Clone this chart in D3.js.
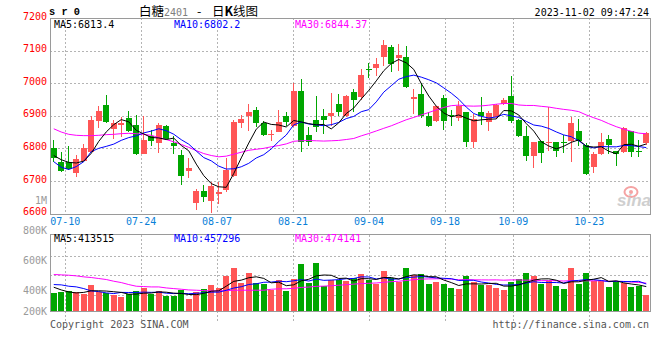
<!DOCTYPE html>
<html><head><meta charset="utf-8">
<script src="https://cdn.jsdelivr.net/npm/d3@7"></script>
<style>body{margin:0;background:#fff}svg{display:block}</style>
</head><body>
<svg id="c" width="660" height="360"></svg>
<script>
// ---------- data ----------
const dates = ["07-06","07-07","07-10","07-11","07-12","07-13","07-14","07-17","07-18","07-19","07-20","07-21","07-24","07-25","07-26","07-27","07-28","07-31",
"08-01","08-02","08-03","08-04","08-07","08-08","08-09","08-10","08-11","08-14","08-15","08-16","08-17","08-18","08-21","08-22","08-23","08-24","08-25","08-28","08-29","08-30","08-31",
"09-01","09-04","09-05","09-06","09-07","09-08","09-11","09-12","09-13","09-14","09-15","09-18","09-19","09-20","09-21","09-22","09-25","09-26","09-27","09-28",
"10-09","10-10","10-11","10-12","10-13","10-16","10-17","10-18","10-19","10-20","10-23","10-24","10-25","10-26","10-27","10-30","10-31","11-01","11-02"];
const open  = [6801,6759,6759,6724,6762,6790,6885,6934,6859,6871,6894,6872,6784,6839,6815,6869,6815,6781,6730,6632,6668,6637,6659,6671,6714,6877,6898,6918,6878,6842,6851,6900,6869,6977,6842,6888,6898,6898,6936,6898,6973,6958,7042,7048,7079,7112,7076,7081,6950,6966,6900,6885,6953,6903,6892,6912,6818,6910,6880,6895,6937,6961,6888,6839,6776,6822,6816,6818,6820,6823,6854,6810,6742,6782,6829,6793,6788,6852,6793,6816];
const high  = [6827,6790,6808,6780,6814,6900,6929,6964,6888,6897,6914,6903,6900,6857,6878,6872,6839,6796,6769,6676,6689,6696,6698,6769,6888,6903,6936,6926,6885,6857,6918,6912,6999,7014,6867,6961,6920,6971,6966,6963,6982,7043,7061,7077,7133,7116,7119,7114,6982,6999,6910,6931,6963,6918,6946,6912,6905,6958,6915,6936,6953,7022,6890,6869,6820,6822,6926,6820,6841,6897,6890,6816,6788,6847,6842,6793,6864,6854,6827,6849];
const low   = [6757,6727,6735,6711,6760,6788,6861,6878,6829,6834,6851,6780,6782,6808,6785,6826,6783,6689,6709,6612,6635,6602,6628,6667,6711,6861,6854,6864,6839,6823,6849,6869,6864,6788,6806,6851,6843,6869,6900,6895,6912,6949,7017,7022,7053,7033,7038,6984,6905,6892,6864,6880,6857,6869,6885,6803,6800,6871,6852,6890,6932,6878,6834,6762,6739,6755,6793,6772,6786,6759,6808,6718,6724,6781,6783,6747,6786,6772,6772,6810];
const close = [6769,6731,6737,6767,6800,6888,6915,6882,6878,6878,6854,6784,6827,6823,6872,6829,6806,6714,6741,6668,6652,6684,6665,6733,6880,6891,6912,6878,6842,6844,6882,6882,6977,6820,6818,6864,6888,6908,6913,6961,6949,7026,7040,7059,7117,7060,7087,6989,6958,6900,6869,6931,6885,6898,6929,6820,6890,6900,6908,6933,6949,6885,6837,6776,6818,6785,6820,6793,6816,6878,6823,6721,6782,6820,6810,6783,6862,6788,6788,6846];
const volume = [301000,324000,335000,324000,296000,438000,324000,313000,267000,239000,284000,335000,387000,284000,335000,256000,256000,358000,199000,318000,370000,438000,392000,591000,728000,472000,643000,472000,455000,353000,523000,347000,546000,796000,483000,813000,421000,523000,523000,512000,563000,625000,523000,455000,677000,563000,495000,733000,608000,625000,455000,489000,455000,392000,375000,591000,495000,438000,438000,392000,353000,495000,540000,643000,591000,455000,506000,421000,370000,728000,455000,643000,506000,506000,404000,506000,472000,404000,426000,267000];
const ma5Head  = [6778,6765,6757,6755];
const ma10Head = [6759,6742,6735,6744,6759,6790,6800,6806,6813];
const ma30Head = [6860,6850,6843,6840,6839,6839,6840,6842,6843,6845,6846,6845,6843,6840,6833,6827,6820,6812,6803,6793,6784,6778,6774,6776,6782,6788,6794,6797,6800];
const vma5Head  = [404000,358000,324000,307000];
const vma10Head = [449000,444000,421000,410000,381000,341000,330000,307000,296000];
const vma30Head = [620000,614000,608000,597000,580000,569000,552000,535000,506000,483000,449000,421000,415000,409000,409000,392000,381000,370000,358000,353000,347000,341000,341000,347000,353000,353000,353000,353000,353000];
const priceTicks = [7200,7100,7000,6900,6800,6700,6600];
const dateTicks = ["07-10","07-24","08-07","08-21","09-04","09-18","10-09","10-23"];
const volTickValues = [1000000,800000,600000,400000,200000];
const volTickLabels = ["1M","800K","600K","400K","200K"];
const volGridValues = [280000,610000,940000];
const priceLegend = {ma5:"6813.4", ma10:"6802.2", ma30:"6844.37"};
const volLegend = {ma5:"413515", ma10:"457296", ma30:"474141"};

// ---------- helpers ----------
function movingAvg(arr, n, head){ return arr.map((v,i)=> i < n-1 ? head[i] : d3.mean(arr.slice(i-n+1,i+1))); }
const RED="#ff5656", GREEN="#00a600", MONO="'DejaVu Sans Mono', monospace";
const svg = d3.select("#c");
const L=50, R=650, PT=18, PB=213.5, VT=234.5, VB=311;

const x = d3.scaleBand().domain(dates).range([L,R]).paddingInner(0.2).paddingOuter(0.1);
const xg = d3.scalePoint().domain(dates).range([L,R]);
const cx = d => x(d)+x.bandwidth()/2;
const y = d3.scaleLinear().domain([6600,7200]).range([PB,PT]);
const yv = d3.scaleLinear().domain([0,1300000]).range([VB,VT]);
const volLabelY = d3.scaleLinear().domain([0,1000000]).range([350.7,200.3]);

const g = svg.append("g");
// grid - price
const grid = g.append("g").attr("stroke","#b4b4b4").attr("stroke-dasharray","2,2").attr("shape-rendering","crispEdges");
priceTicks.filter(t=>t>6600&&t<7200).forEach(t=>{
  grid.append("line").attr("x1",L).attr("x2",R).attr("y1",Math.round(y(t))+0.5).attr("y2",Math.round(y(t))+0.5);
});
dateTicks.forEach(d=>{
  const xx=Math.round(xg(d))+0.5;
  grid.append("line").attr("x1",xx).attr("x2",xx).attr("y1",PT).attr("y2",PB);
  grid.append("line").attr("x1",xx).attr("x2",xx).attr("y1",VT).attr("y2",VB+10);
});
volGridValues.forEach(v=>{
  grid.append("line").attr("x1",L).attr("x2",R).attr("y1",Math.round(yv(v))+0.5).attr("y2",Math.round(yv(v))+0.5);
});

// watermark
const wm = g.append("g");
wm.append("ellipse").attr("cx",631).attr("cy",192).attr("rx",6.5).attr("ry",5).attr("fill","none").attr("stroke","#f5a3a3").attr("stroke-width",2);
wm.append("circle").attr("cx",631).attr("cy",192).attr("r",2).attr("fill","#f5a3a3");
wm.append("text").attr("x",651).attr("y",206).attr("text-anchor","end").attr("font-family","'Liberation Sans',Arial,sans-serif")
  .attr("font-style","italic").attr("font-weight","bold").attr("font-size",17).attr("fill","#cfcfcf").text("sina");

// candles
const cg = g.append("g").attr("shape-rendering","crispEdges");
dates.forEach((d,i)=>{
  const up = close[i] >= open[i];
  const col = up ? RED : GREEN;
  const xc = Math.floor(cx(d))+0.5;
  cg.append("line").attr("x1",xc).attr("x2",xc).attr("y1",y(high[i])).attr("y2",y(low[i])).attr("stroke",col);
  const top = y(Math.max(open[i],close[i])), bot = y(Math.min(open[i],close[i]));
  cg.append("rect").attr("x",Math.round(x(d))).attr("width",Math.round(x.bandwidth()))
    .attr("y",top).attr("height",Math.max(1,bot-top)).attr("fill",col);
});
// volume bars
dates.forEach((d,i)=>{
  const up = close[i] >= open[i];
  cg.append("rect").attr("x",Math.round(x(d))).attr("width",Math.round(x.bandwidth()))
    .attr("y",yv(volume[i])).attr("height",VB-yv(volume[i])).attr("fill",up?RED:GREEN);
});

// MA lines
const pLine = d3.line().x((v,i)=>cx(dates[i])).y(v=>y(v));
const vLine = d3.line().x((v,i)=>cx(dates[i])).y(v=>yv(v));
[[movingAvg(close,30,ma30Head),"#ff00ff"],[movingAvg(close,10,ma10Head),"#0000ff"],[movingAvg(close,5,ma5Head),"#000"]].forEach(([s,c])=>{
  g.append("path").attr("d",pLine(s)).attr("fill","none").attr("stroke",c).attr("stroke-width",1);
});
[[movingAvg(volume,30,vma30Head),"#ff00ff"],[movingAvg(volume,10,vma10Head),"#0000ff"],[movingAvg(volume,5,vma5Head),"#000"]].forEach(([s,c])=>{
  g.append("path").attr("d",vLine(s)).attr("fill","none").attr("stroke",c).attr("stroke-width",1);
});

// borders
g.append("rect").attr("x",L+0.5).attr("y",PT+0.5).attr("width",R-L).attr("height",PB-PT).attr("fill","none").attr("stroke","#9a9a9a").attr("shape-rendering","crispEdges");
g.append("rect").attr("x",L+0.5).attr("y",VT).attr("width",R-L).attr("height",VB-VT).attr("fill","none").attr("stroke","#9a9a9a").attr("shape-rendering","crispEdges");

// price axis labels
priceTicks.forEach(t=>{
  svg.append("text").attr("x",47).attr("y",y(t)-2).attr("dy","0.36em").attr("text-anchor","end")
    .attr("font-family",MONO).attr("font-size",10).attr("fill","#ff0000").text(t);
});
// date labels
dateTicks.forEach(d=>{
  svg.append("text").attr("x",xg(d)).attr("y",224.5).attr("text-anchor","middle")
    .attr("font-family",MONO).attr("font-size",10).attr("fill","#0a7fd8").text(d);
});
// volume labels
volTickValues.forEach((v,i)=>{
  svg.append("text").attr("x",47).attr("y",Math.min(volLabelY(v),VB)).attr("dy","0.36em").attr("text-anchor","end")
    .attr("font-family",MONO).attr("font-size",10).attr("fill","#9a9a9a").text(volTickLabels[i]);
});

// legends
function legend(yy, vals){
  svg.append("text").attr("x",54).attr("y",yy).attr("font-family",MONO).attr("font-size",10).attr("fill","#000").text("MA5:"+vals.ma5);
  svg.append("text").attr("x",174).attr("y",yy).attr("font-family",MONO).attr("font-size",10).attr("fill","#0000ff").text("MA10:"+vals.ma10);
  svg.append("text").attr("x",295).attr("y",yy).attr("font-family",MONO).attr("font-size",10).attr("fill","#ff00ff").text("MA30:"+vals.ma30);
}
legend(27.6, priceLegend);
legend(242.3, volLegend);

// header
svg.append("text").attr("x",49).attr("y",15.2).attr("font-family","'Liberation Mono',monospace").attr("font-weight","bold")
  .attr("font-size",11.5).attr("textLength",31).attr("lengthAdjust","spacingAndGlyphs").attr("fill","#000").text("s r 0");
const tt = svg.append("text").attr("y",15.5).attr("font-size",12.5).attr("fill","#000").attr("font-family","'Noto Sans CJK SC',sans-serif");
tt.append("tspan").attr("x",139).text("白糖");
tt.append("tspan").attr("x",164).attr("font-family",MONO).attr("font-size",10).attr("fill","#808080").text("2401");
tt.append("tspan").attr("x",197).text("-");
tt.append("tspan").attr("x",212).text("日");
tt.append("tspan").attr("font-weight","bold").text("K");
tt.append("tspan").text("线图");
svg.append("text").attr("x",649).attr("y",16).attr("text-anchor","end").attr("font-family",MONO).attr("font-size",10).attr("fill","#000").text("2023-11-02 09:47:24");

// footer
svg.append("text").attr("x",50).attr("y",327.5).attr("font-family",MONO).attr("font-size",10).attr("fill","#555").text("Copyright 2023 SINA.COM");
svg.append("text").attr("x",649).attr("y",327.5).attr("text-anchor","end").attr("font-family",MONO).attr("font-size",10).attr("fill","#555").text("http://finance.sina.com.cn");
</script>
</body></html>
